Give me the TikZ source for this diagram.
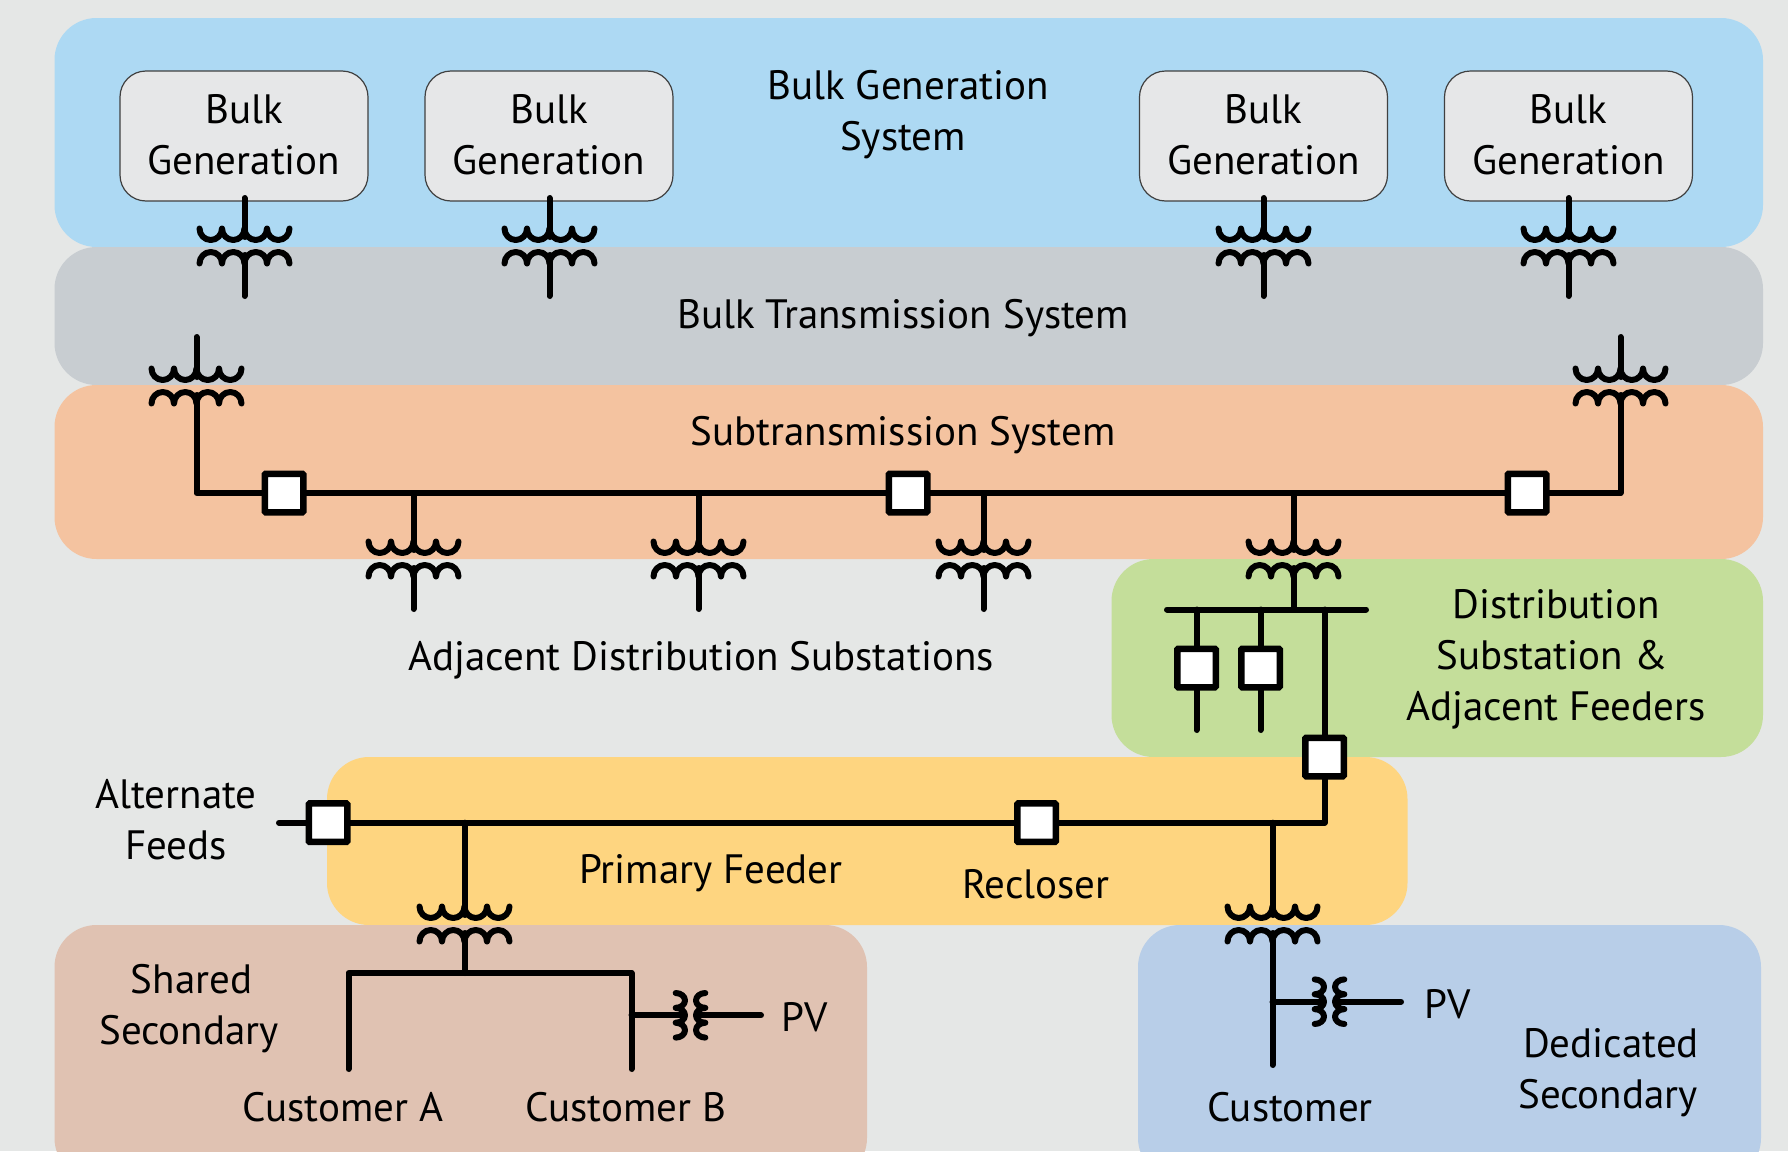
\documentclass[tikz,border=0pt]{standalone}
\usepackage{fontspec}
\setmainfont{PT Sans}
\tikzset{
  x=1pt,y=-1pt,
  band/.style={rounded corners=42pt,draw=none},
  bulkbox/.style={draw=black!75,line width=1.2pt,fill=boxgray,rounded corners=26pt,minimum width=248pt,minimum height=130pt,inner sep=0pt,align=center,font=\lbl},
  lbl/.style={font=\lbl,align=center,inner sep=0pt},
  wire/.style={line width=6pt,line cap=round,line join=round,black},
  coil/.style={line width=6pt,line cap=round,line join=round,black},
  brk/.style={draw=black,line width=6.5pt,fill=white,minimum size=38.5pt,inner sep=0pt,rounded corners=1pt},
  xfmr/.pic={
    \draw[coil] (-45,-17.5) arc[start angle=180,end angle=360,x radius=11.25pt,y radius=11.5pt]
       arc[start angle=180,end angle=360,x radius=11.25pt,y radius=11.5pt]
       arc[start angle=180,end angle=360,x radius=11.25pt,y radius=11.5pt]
       arc[start angle=180,end angle=360,x radius=11.25pt,y radius=11.5pt];
    \draw[coil] (-45,17.5) arc[start angle=180,end angle=0,x radius=11.25pt,y radius=11.5pt]
       arc[start angle=180,end angle=0,x radius=11.25pt,y radius=11.5pt]
       arc[start angle=180,end angle=0,x radius=11.25pt,y radius=11.5pt]
       arc[start angle=180,end angle=0,x radius=11.25pt,y radius=11.5pt];
    \coordinate (-hi) at (0,-9);
    \coordinate (-lo) at (0,9);
  },
  xfmrh/.pic={
    \draw[coil] (-14.8,-22.3) arc[start angle=90,end angle=-90,x radius=9.3pt,y radius=7.43pt]
       arc[start angle=90,end angle=-90,x radius=9.3pt,y radius=7.43pt]
       arc[start angle=90,end angle=-90,x radius=9.3pt,y radius=7.43pt];
    \draw[coil] (14.8,-22.3) arc[start angle=90,end angle=270,x radius=9.3pt,y radius=7.43pt]
       arc[start angle=90,end angle=270,x radius=9.3pt,y radius=7.43pt]
       arc[start angle=90,end angle=270,x radius=9.3pt,y radius=7.43pt];
    \coordinate (-l) at (-6,0);
    \coordinate (-r) at (6,0);
  },
}
\newcommand\lbl{\fontsize{41pt}{51pt}\selectfont}
\definecolor{bgc}{HTML}{E5E7E6}
\definecolor{bluea}{HTML}{ADD9F3}
\definecolor{graya}{HTML}{C8CDD1}
\definecolor{orangea}{HTML}{F4C3A0}
\definecolor{greena}{HTML}{C4DE9A}
\definecolor{yellowa}{HTML}{FED580}
\definecolor{pinka}{HTML}{E0C2B2}
\definecolor{blueb}{HTML}{B8CEE8}
\definecolor{boxgray}{HTML}{E6E7E8}
\begin{document}
\begin{tikzpicture}
\useasboundingbox (0,0) rectangle (1788,1151);
\fill[bgc] (0,0) rectangle (1788,1151);
\begin{scope}
\clip (0,0) rectangle (1788,1151);
\fill[band,bluea] (54.5,18) rectangle (1763,247);
\fill[band,graya] (54.5,247) rectangle (1763,385);
\fill[band,orangea] (54.5,385) rectangle (1763,559);
\fill[band,greena] (1111.5,559) rectangle (1763,757);
\fill[band,yellowa] (327,757) rectangle (1407.5,925);
\fill[band,pinka] (54.5,925) rectangle (867,1180);
\fill[band,blueb] (1138,925) rectangle (1761,1180);
\end{scope}

\node[bulkbox] (g1) at (244,136) {\raisebox{3.5pt}{Bulk}\\\raisebox{3.5pt}{Generation}};
\node[bulkbox] (g2) at (549,136) {\raisebox{3.5pt}{Bulk}\\\raisebox{3.5pt}{Generation}};
\node[bulkbox] (g3) at (1263.5,136) {\raisebox{3.5pt}{Bulk}\\\raisebox{3.5pt}{Generation}};
\node[bulkbox] (g4) at (1568.5,136) {\raisebox{3.5pt}{Bulk}\\\raisebox{3.5pt}{Generation}};

\pic (t1) at (244.5,246) {xfmr};
\pic (t2) at (549.5,246) {xfmr};
\pic (t3) at (1263.5,246) {xfmr};
\pic (t4) at (1568.5,246) {xfmr};
\pic (t5) at (196.5,386) {xfmr};
\pic (t6) at (1620.5,386) {xfmr};
\pic (t7) at (413.5,559) {xfmr};
\pic (t8) at (698.5,559) {xfmr};
\pic (t9) at (983.5,559) {xfmr};
\pic (t10) at (1293.5,559) {xfmr};
\pic (t11) at (464.5,924) {xfmr};
\pic (t12) at (1272.5,924) {xfmr};
\pic (t13) at (690.5,1015.3) {xfmrh};
\pic (t14) at (1329.5,1001.7) {xfmrh};

\coordinate (a1) at (244.5,198);
\coordinate (b1) at (244.5,296);
\coordinate (a2) at (549.5,198);
\coordinate (b2) at (549.5,296);
\coordinate (a3) at (1263.5,198);
\coordinate (b3) at (1263.5,296);
\coordinate (a4) at (1568.5,198);
\coordinate (b4) at (1568.5,296);
\coordinate (a5) at (196.5,337);
\coordinate (a6) at (1620.5,337);
\coordinate (j7) at (413.5,493);
\coordinate (j8) at (698.5,493);
\coordinate (j9) at (983.5,493);
\coordinate (j10) at (1293.5,493);
\coordinate (b7) at (413.5,609);
\coordinate (b8) at (698.5,609);
\coordinate (b9) at (983.5,609);
\coordinate (busl) at (1167,609.5);
\coordinate (busr) at (1366,609.5);
\coordinate (bj) at (1293.5,609.5);
\coordinate (d1) at (1196.5,609.5);
\coordinate (d2) at (1260.5,609.5);
\coordinate (d3) at (1324.5,609.5);
\coordinate (e1) at (1196.5,730);
\coordinate (e2) at (1260.5,730);
\coordinate (pl) at (279,822.7);
\coordinate (pc) at (1324.5,822.7);
\coordinate (pj1) at (464.5,822.7);
\coordinate (pj2) at (1272.5,822.7);
\coordinate (sc) at (464.5,973);
\coordinate (sl) at (348.5,973);
\coordinate (sr) at (631.5,973);
\coordinate (cl) at (348.5,1069);
\coordinate (cr) at (631.5,1069);
\coordinate (cb) at (1272.5,1065);
\coordinate (hj1) at (631.5,1015.3);
\coordinate (hj2) at (1272.5,1001.7);
\coordinate (pv1) at (761,1015.3);
\coordinate (pv2) at (1401,1001.7);

\node[brk] (s1) at (284,493) {};
\node[brk] (s2) at (908,493) {};
\node[brk] (s3) at (1527,493) {};
\node[brk] (f1) at (1196.5,668) {};
\node[brk] (f2) at (1260.5,668) {};
\node[brk] (f3) at (1324.5,757) {};
\node[brk] (r1) at (328,822.7) {};
\node[brk] (r2) at (1036.5,822.7) {};

\foreach \n in {1,2,3,4}{
  \draw[wire] (a\n) -- (t\n-hi);
  \draw[wire] (t\n-lo) -- (b\n);
}
\draw[wire] (a5) -- (t5-hi);
\draw[wire] (a6) -- (t6-hi);
\draw[wire] (t5-lo) |- (s1);
\draw[wire] (s1) -- (s2);
\draw[wire] (s2) -- (s3);
\draw[wire] (s3) -| (t6-lo);
\foreach \n in {7,8,9,10}{
  \draw[wire] (j\n) -- (t\n-hi);
}
\foreach \n in {7,8,9}{
  \draw[wire] (t\n-lo) -- (b\n);
}
\draw[wire] (t10-lo) -- (bj);
\draw[wire] (busl) -- (busr);
\draw[wire] (d1) -- (f1);
\draw[wire] (d2) -- (f2);
\draw[wire] (d3) -- (f3);
\draw[wire] (f1) -- (e1);
\draw[wire] (f2) -- (e2);
\draw[wire] (f3) |- (r2);
\draw[wire] (r2) -- (r1);
\draw[wire] (r1) -- (pl);
\draw[wire] (pj1) -- (t11-hi);
\draw[wire] (pj2) -- (t12-hi);
\draw[wire] (t11-lo) -- (sc);
\draw[wire] (cl) -- (sl) -- (sr) -- (cr);
\draw[wire] (t12-lo) -- (cb);
\draw[wire] (hj1) -- (t13-l);
\draw[wire] (t13-r) -- (pv1);
\draw[wire] (hj2) -- (t14-l);
\draw[wire] (t14-r) -- (pv2);

\node[lbl] (l1) at (908,115) {Bulk Generation\\System\kern 10pt};
\node[lbl] (l2) at (903,318) {Bulk Transmission System};
\node[lbl] (l3) at (903,435.5) {Subtransmission System};
\node[lbl] (l4) at (701,660) {Adjacent Distribution Substations};
\node[lbl] (l5) at (1556,659) {Distribution\\Substation \&\kern 8pt\\Adjacent Feeders};
\node[lbl] (l6) at (176,819.5) {Alternate\\Feeds};
\node[lbl] (l7) at (711,873) {Primary Feeder};
\node[lbl] (l8) at (1036,884) {Recloser};
\node[lbl] (l9) at (189,1009) {Shared\kern -5pt\\Secondary};
\node[lbl] (l10) at (343,1107) {Customer A};
\node[lbl] (l11) at (626,1107) {Customer B};
\node[lbl] (l12) at (805,1017) {PV};
\node[lbl] (l13) at (1448,1004) {PV};
\node[lbl] (l14) at (1611,1073) {Dedicated\\Secondary\kern 6pt};
\node[lbl] (l15) at (1290,1107) {Customer};
\end{tikzpicture}
\end{document}
